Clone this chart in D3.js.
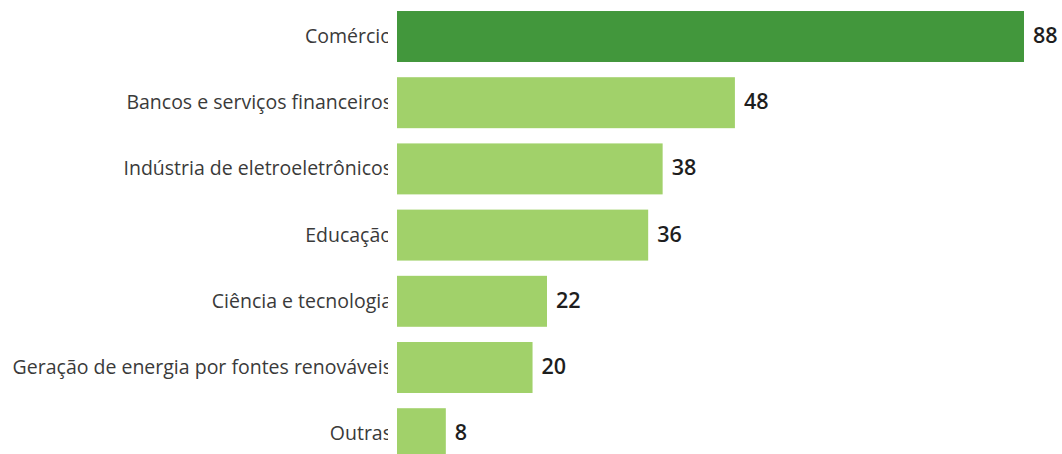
<!DOCTYPE html>
<html><head><meta charset="utf-8">
<script src="https://cdn.jsdelivr.net/npm/d3@7"></script>
<style>body{margin:0;background:#fff;}svg{display:block;}</style>
</head><body>
<svg id="c" width="1062" height="454"></svg>
<script>
const categories = ["Comércio","Bancos e serviços financeiros","Indústria de eletroeletrônicos","Educação","Ciência e tecnologia","Geração de energia por fontes renováveis","Outras"];
const values = [88,48,38,36,22,20,8];
const highlight = ["Comércio"];

const W = 1062, H = 454;
const svg = d3.select("#c");
const x = d3.scaleLinear().domain([0, 88]).range([388, 1024]);
const step = 66.2;
const y = d3.scaleBand().domain(categories).range([3.4, 3.4 + step*categories.length]).paddingInner(0.23).paddingOuter(0.115);

const defs = svg.append("defs");
defs.append("clipPath").attr("id","barclip").append("rect").attr("x",397).attr("y",0).attr("width",W-397).attr("height",H);
defs.append("clipPath").attr("id","lblclip").append("rect").attr("x",0).attr("y",0).attr("width",388).attr("height",H);

svg.append("g").attr("clip-path","url(#barclip)")
  .selectAll("rect").data(categories).join("rect")
  .attr("x", x(0)).attr("y", d=>y(d))
  .attr("width", (d,i)=>x(values[i])-x(0)).attr("height", y.bandwidth())
  .attr("fill", d=>highlight.includes(d) ? "#42973c" : "#a1d16a");

svg.append("g").attr("clip-path","url(#lblclip)")
  .selectAll("text").data(categories).join("text")
  .attr("x", 392).attr("y", d=>y(d)+y.bandwidth()/2)
  .attr("dy","0.33em").attr("text-anchor","end")
  .style("font-family","'Open Sans', sans-serif").style("font-size","19.5px").attr("fill","#3a3a3a")
  .text(d=>d);

svg.append("g").selectAll("text").data(categories).join("text")
  .attr("x", (d,i)=>x(values[i])+9).attr("y", d=>y(d)+y.bandwidth()/2)
  .attr("dy","0.3em")
  .style("font-family","'Open Sans', sans-serif").style("font-size","21.5px").style("font-weight","600").attr("fill","#1e1e1e")
  .text((d,i)=>values[i]);
</script>
</body></html>
